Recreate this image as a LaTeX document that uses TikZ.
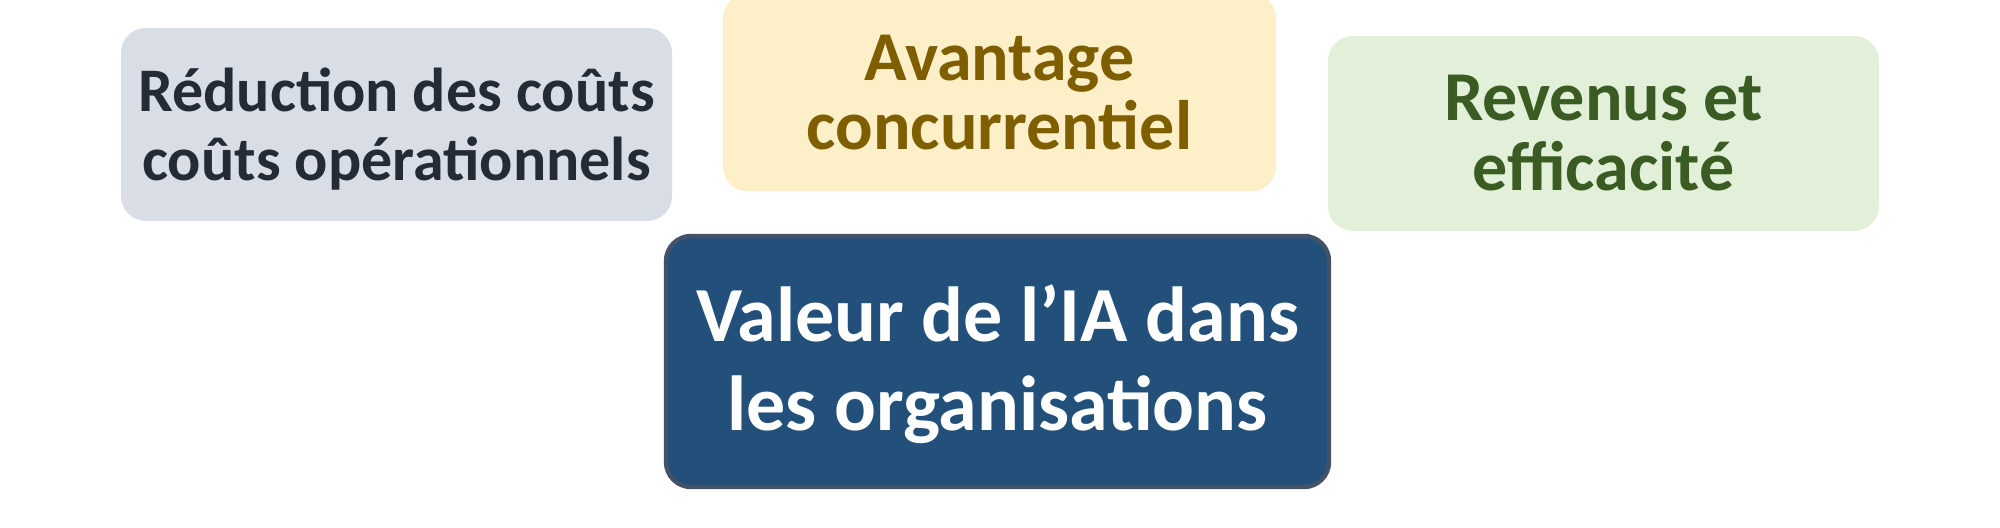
\documentclass[tikz,border=0pt]{standalone}
\usepackage{fontspec}
\setmainfont{Carlito}
\definecolor{grayfill}{HTML}{D8DDE6}
\definecolor{graytext}{HTML}{252B36}
\definecolor{yelfill}{HTML}{FDF0C9}
\definecolor{yeltext}{HTML}{7F5E00}
\definecolor{grnfill}{HTML}{E2EFD9}
\definecolor{grntext}{HTML}{3A5B22}
\definecolor{bluefill}{HTML}{22507A}
\definecolor{blueline}{HTML}{425369}
\tikzset{
  card/.style={rectangle, rounded corners=12.5pt, inner sep=0pt},
  cardtext/.style={align=center, inner sep=0pt},
}
\begin{document}
\begin{tikzpicture}[x=0.5pt,y=-0.5pt]
\useasboundingbox (0,0) rectangle (2000,528);
\fill[white] (0,0) rectangle (2000,528);
\node[card, fill=grayfill, minimum width=275.5pt, minimum height=96.5pt] (cost) at (396.5,124.5) {};
\node[cardtext, text=graytext, font=\bfseries\fontsize{31}{34.5}\selectfont]
  (costtxt) at ([yshift=-2.5pt]cost.center) {Réduction des coûts\\coûts opérationnels};
\node[card, fill=yelfill, minimum width=276.5pt, minimum height=99pt] (adv) at (999.5,92.5) {};
\node[cardtext, text=yeltext, font=\bfseries\fontsize{35}{34.5}\selectfont]
  (advtxt) at (adv.center) {Avantage\\concurrentiel};
\node[card, fill=grnfill, minimum width=275.5pt, minimum height=97.5pt] (rev) at (1603.5,133.5) {};
\node[cardtext, text=grntext, font=\bfseries\fontsize{35}{35}\selectfont]
  (revtxt) at (rev.center) {Revenus et\\efficacité};
\node[card, fill=bluefill, draw=blueline, line width=2.2pt, minimum width=331.5pt, minimum height=125.5pt] (val) at (997.5,361.5) {};
\node[cardtext, text=white, font=\bfseries\fontsize{39}{44.5}\selectfont]
  (valtxt) at ([yshift=-1.5pt]val.center) {Valeur de l’IA dans\\les organisations};
\end{tikzpicture}
\end{document}
